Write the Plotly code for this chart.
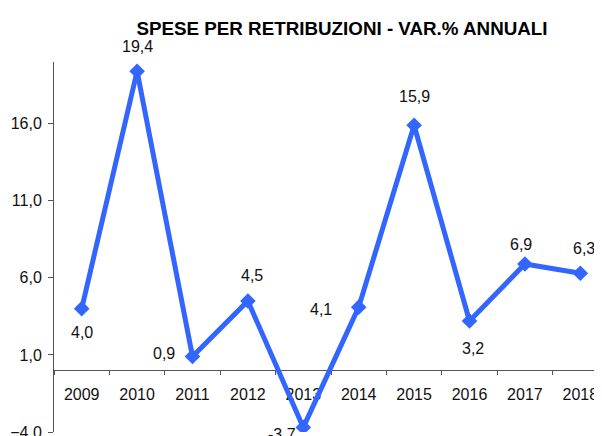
import plotly.graph_objects as go

years = ["2009", "2010", "2011", "2012", "2013", "2014", "2015", "2016", "2017", "2018"]
values = [4.0, 19.4, 0.9, 4.5, -3.7, 4.1, 15.9, 3.2, 6.9, 6.3]
title_text = "SPESE PER RETRIBUZIONI - VAR.% ANNUALI"

# label offsets (pixels) relative to each marker
label_dx = [0, 0, -29, 4, -21, -38, 0, 3, -4, 4]
label_dy = [24, -25, -3, -25, 7, 2, -29, 27, -19, -25]

FONT = "Arial, Liberation Sans, sans-serif"
BLUE = "#3366FF"
AXIS = "#555555"
TXT = "#111111"

fig = go.Figure()
# invisible helper trace so the visible category axis (x2) knows the categories
fig.add_trace(go.Scatter(
    x=years, y=values, xaxis="x2", yaxis="y", mode="lines",
    line=dict(width=0, color="rgba(0,0,0,0)"), hoverinfo="skip", showlegend=False,
))
fig.add_trace(go.Scatter(
    x=years, y=values, mode="lines+markers",
    line=dict(color=BLUE, width=5),
    marker=dict(symbol="diamond", size=12, color=BLUE),
    hoverinfo="x+y", showlegend=False,
))

annotations = []
for i, (v, dx, dy) in enumerate(zip(values, label_dx, label_dy)):
    annotations.append(dict(
        x=i, y=v, xref="x", yref="y", showarrow=False,
        text=f"{v:.1f}".replace(".", ","),
        xshift=dx, yshift=-dy,
        font=dict(family=FONT, size=16, color=TXT),
        xanchor="center", yanchor="middle",
    ))

fig.update_layout(
    width=602, height=436,
    margin=dict(l=46, r=2, t=54, b=12),
    paper_bgcolor="white", plot_bgcolor="white",
    separators=",.",
    font=dict(family=FONT, size=16, color=TXT),
    title=dict(text=f"<b>{title_text}</b>", x=334 / 602, xanchor="center",
               xref="container", y=1 - 20 / 436, yanchor="middle",
               font=dict(family=FONT, size=18.8, color="#000000")),
    annotations=annotations,
    xaxis=dict(
        type="category", range=[-0.5, 9.5], visible=False,
        showgrid=False, zeroline=False,
    ),
    xaxis2=dict(
        type="category", range=[-0.5, 9.5], overlaying="x",
        anchor="free", position=4 / 24, side="bottom",
        showline=True, linecolor=AXIS, linewidth=1,
        ticks="outside", ticklen=4, tickcolor=AXIS, tickson="boundaries",
        showgrid=False, zeroline=False, layer="below traces",
        tickfont=dict(family=FONT, size=16, color=TXT),
        ticklabelstandoff=9,
    ),
    yaxis=dict(
        range=[-4, 20], tick0=-4, dtick=5, tickformat=".1f",
        showline=True, linecolor=AXIS, linewidth=1,
        ticks="outside", ticklen=5, tickcolor=AXIS,
        showgrid=False, zeroline=False,
        tickfont=dict(family=FONT, size=16, color=TXT),
        ticklabelstandoff=3,
    ),
)

fig.write_html("out.html")
